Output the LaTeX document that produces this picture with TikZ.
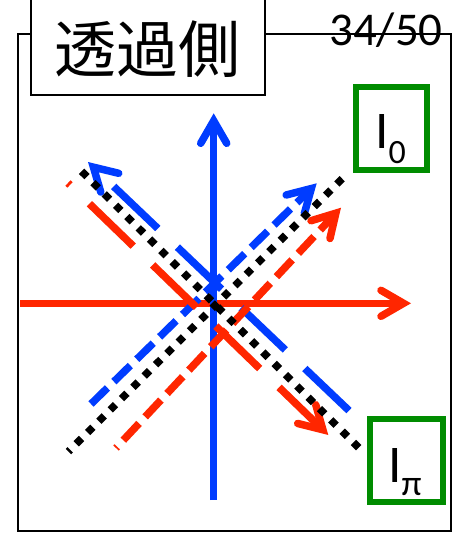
\documentclass[tikz,border=0pt]{standalone}
\usepackage{fontspec}
\setmainfont{Carlito}
\newfontfamily\cjkfont{Noto Sans CJK JP}
\usetikzlibrary{calc}
\definecolor{myblue}{RGB}{0,60,255}
\definecolor{myred}{RGB}{255,38,0}
\definecolor{mygreen}{RGB}{0,140,0}
\tikzset{
  ray/.style={line width=7.5pt, line cap=butt},
  longdash/.style={ray, dash pattern=on 61pt off 27pt},
  shortdash/.style={ray, dash pattern=on 23pt off 9pt},
  dotline/.style={ray, black, dash pattern=on 7.5pt off 8.5pt},
  headline/.style={line width=7.5pt, line cap=round, line join=miter, miter limit=10},
  frameline/.style={line width=1.9pt, black},
  gbox/.style={draw=mygreen, line width=6pt, fill=white, inner sep=0pt},
}
\newcommand{\Vhead}[3]{%
  \draw[headline, #3] ($(#1)!26pt!30:(#2)$) -- (#1) -- ($(#1)!26pt!-30:(#2)$);
}
\begin{document}
\begin{tikzpicture}[x=1pt,y=-1pt]
\useasboundingbox[fill=white] (0,0) rectangle (453,533);
\begin{scope}
\clip (0,0) rectangle (453,533);
% frame and title
\draw[frameline] (17.7,33.7) rectangle (450.8,531.2);
\node[anchor=base, inner sep=0pt, font=\fontsize{47}{47}\selectfont] (page) at (386,45) {34/50};
\draw[frameline, fill=white] (31.2,-10) rectangle (264.7,95);
\node[anchor=base, inner sep=0pt, font=\cjkfont\fontsize{62}{62}\selectfont] (title) at (147.5,72.5) {透過側};

% red horizontal
\coordinate (rhE) at (20,303.3);
\coordinate (rhP) at (411,303.3);
\coordinate (rhT) at ($(rhP)!7.5pt!(rhE)$);
\draw[ray, myred] (rhE) -- (rhT);
\Vhead{rhT}{rhE}{myred}

% blue vertical
\coordinate (bvE) at (213.7,500);
\coordinate (bvP) at (213.7,113.3);
\coordinate (bvT) at ($(bvP)!7.5pt!(bvE)$);
\draw[ray, myblue] (bvE) -- (bvT);
\Vhead{bvT}{bvE}{myblue}

% blue dashed "\" (arrow to upper left)
\coordinate (bbE) at (349,410.6);
\coordinate (bbP) at (88,162);
\coordinate (bbT) at ($(bbP)!7.5pt!(bbE)$);
\draw[longdash, myblue] (bbE) -- (bbT);
\Vhead{bbT}{bbE}{myblue}

% blue dashed "/" (arrow to upper right)
\coordinate (bsE) at (91,404);
\coordinate (bsP) at (316.7,183.3);
\coordinate (bsT) at ($(bsP)!7.5pt!(bsE)$);
\draw[shortdash, myblue] (bsE) -- (bsT);
\Vhead{bsT}{bsE}{myblue}

% red dashed "\" (arrow to lower right)
\coordinate (rbE) at (68,183);
\coordinate (rbP) at (328.3,435);
\coordinate (rbT) at ($(rbP)!7.5pt!(rbE)$);
\draw[longdash, myred] (rbT) -- (rbE);
\Vhead{rbT}{rbE}{myred}

% red dashed "/" (arrow to upper right)
\coordinate (rsE) at (116,448);
\coordinate (rsP) at (341,207.7);
\coordinate (rsT) at ($(rsP)!7.5pt!(rsE)$);
\draw[shortdash, myred] (rsT) -- (rsE);
\Vhead{rsT}{rsE}{myred}

% black dotted lines
\coordinate (dsA) at (342.2,178.7);
\coordinate (dsB) at (68.4,451.6);
\draw[dotline] (dsA) -- (dsB);
\coordinate (dbA) at (81.6,171.3);
\coordinate (dbB) at (358.7,447.7);
\draw[dotline] (dbA) -- (dbB);

% labels
\node[gbox, minimum width=71pt, minimum height=83pt] (box0) at (391.5,128.5) {};
\node[anchor=base west, inner sep=0pt, font=\fontsize{53}{53}\selectfont] (lab0) at (375,148) {I\raisebox{-15pt}{\fontsize{34}{34}\selectfont 0}};
\node[gbox, minimum width=73pt, minimum height=83pt] (boxpi) at (406.5,460.5) {};
\node[anchor=base west, inner sep=0pt, font=\fontsize{53}{53}\selectfont] (labpi) at (388,482) {I\raisebox{-13pt}{\fontsize{36}{36}\selectfont π}};
\end{scope}
\end{tikzpicture}
\end{document}
